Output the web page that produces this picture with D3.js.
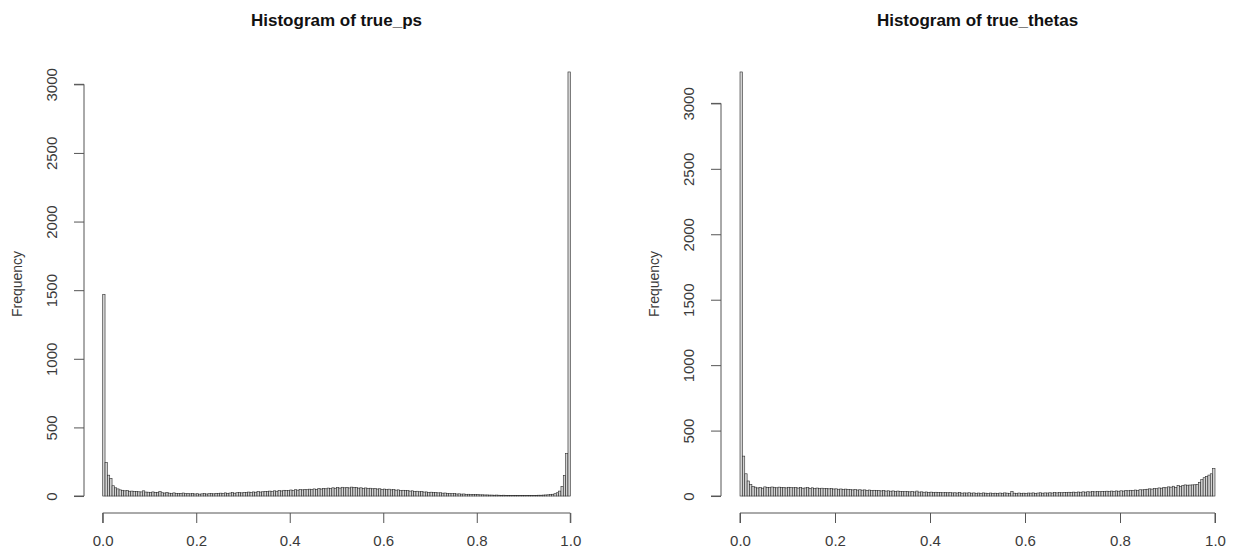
<!DOCTYPE html>
<html>
<head>
<meta charset="utf-8">
<script src="https://cdn.jsdelivr.net/npm/d3@7"></script>
<style>
    body { margin: 0; background: #fff; }
    svg { display: block; font-family: "Liberation Sans", Arial, sans-serif; }
</style>
</head>
<body>
<svg id="hist"></svg>
<script>
// [A] Datos -------------------------------------------------------------------
const binWidth = 0.005; // Ancho de cada barra
const xTicks = [0, 0.2, 0.4, 0.6, 0.8, 1.0];
const yTicks = [0, 500, 1000, 1500, 2000, 2500, 3000];

// Frecuencias de true_ps (200 barras de 0 a 1)
const truePs = [
    1470, 245, 152, 128, 75, 60, 52, 45, 42, 38,
    40, 35, 36, 33, 34, 31, 30, 38, 29, 28,
    27, 30, 26, 25, 33, 24, 22, 25, 21, 20,
    23, 19, 20, 18, 22, 17, 18, 16, 19, 15,
    17, 14, 16, 18, 15, 17, 19, 16, 20, 18,
    21, 19, 23, 20, 22, 25, 21, 24, 26, 23,
    27, 25, 29, 26, 30, 28, 32, 29, 31, 34,
    33, 36, 32, 38, 35, 40, 37, 42, 39, 41,
    44, 40, 46, 43, 47, 45, 49, 46, 50, 48,
    52, 49, 54, 51, 56, 53, 58, 55, 60, 57,
    62, 58, 64, 60, 63, 59, 65, 61, 62, 58,
    60, 56, 59, 55, 57, 53, 55, 51, 53, 49,
    51, 47, 50, 45, 47, 43, 45, 41, 42, 39,
    40, 36, 38, 34, 35, 31, 33, 29, 30, 27,
    28, 25, 26, 23, 24, 21, 22, 19, 20, 17,
    18, 15, 16, 14, 15, 12, 13, 11, 12, 10,
    10, 9, 9, 8, 8, 7, 7, 6, 7, 6,
    5, 6, 5, 5, 4, 5, 4, 4, 5, 4,
    4, 5, 4, 4, 5, 5, 6, 6, 7, 8,
    9, 11, 13, 17, 24, 36, 70, 150, 310, 3090
];

// Frecuencias de true_thetas (200 barras de 0 a 1)
const trueThetas = [
    3240, 305, 170, 115, 88, 72, 68, 62, 65, 60,
    70, 66, 64, 69, 67, 63, 68, 65, 66, 62,
    67, 64, 63, 66, 61, 65, 60, 62, 64, 59,
    63, 58, 61, 57, 60, 56, 59, 55, 57, 54,
    55, 52, 54, 50, 53, 49, 51, 47, 50, 46,
    48, 45, 47, 43, 46, 42, 44, 41, 43, 39,
    42, 38, 40, 37, 39, 35, 38, 34, 36, 33,
    35, 32, 34, 31, 38, 30, 32, 29, 31, 28,
    30, 27, 29, 26, 28, 25, 27, 25, 26, 24,
    25, 23, 26, 22, 24, 23, 25, 22, 24, 21,
    23, 21, 24, 22, 20, 23, 21, 22, 20, 23,
    21, 24, 22, 20, 35, 22, 21, 23, 20, 22,
    21, 23, 22, 24, 21, 23, 25, 22, 24, 23,
    25, 23, 26, 24, 27, 25, 28, 26, 29, 27,
    30, 28, 31, 29, 32, 30, 33, 31, 34, 32,
    35, 33, 36, 34, 37, 35, 38, 36, 39, 37,
    40, 38, 42, 40, 44, 42, 46, 44, 48, 47,
    50, 52, 55, 53, 58, 56, 62, 60, 66, 63,
    70, 68, 75, 65, 82, 72, 80, 85, 83, 84,
    85, 86, 88, 105, 125, 140, 150, 160, 170, 210
];

// [B] Configuracion -----------------------------------------------------------
const width = 1246;
const height = 555;

const svg = d3.select("#hist")
    .attr("width", width)
    .attr("height", height);

svg.append("rect")
    .attr("width", width)
    .attr("height", height)
    .attr("fill", "#fff");

// [C] Dibuja un histograma al estilo de R -------------------------------------
function drawHistogram(values, title, left, right) {
    const top = 55;
    const bottom = 513;
    const maxVal = d3.max(values);

    // R amplia los limites un 4% por cada lado
    const x = d3.scaleLinear().domain([-0.04, 1.04]).range([left, right]);
    const y = d3.scaleLinear().domain([-0.04 * maxVal, 1.04 * maxVal]).range([bottom, top]);

    const g = svg.append("g");

    // [C.1] Barras
    g.selectAll(".bar")
        .data(values)
        .join("rect")
        .attr("class", "bar")
        .attr("x", (d, i) => x(i * binWidth))
        .attr("y", d => y(d))
        .attr("width", x(binWidth) - x(0))
        .attr("height", d => y(0) - y(d))
        .attr("fill", "#d3d3d3")
        .attr("stroke", "#2a2a2a")
        .attr("stroke-width", 0.6);

    // [C.2] Eje X
    const xAxis = g.append("g")
        .attr("transform", `translate(0,${bottom})`)
        .call(d3.axisBottom(x).tickValues(xTicks).tickFormat(d3.format(".1f")).tickSize(10).tickPadding(12));

    // [C.3] Eje Y (etiquetas verticales como en R)
    const yAxis = g.append("g")
        .attr("transform", `translate(${x(-0.04)},0)`)
        .call(d3.axisLeft(y).tickValues(yTicks).tickSize(10).tickFormat(d3.format("d")));

    [xAxis, yAxis].forEach(a => {
        a.select(".domain").attr("stroke", "#555").attr("stroke-width", 1);
        a.selectAll(".tick line").attr("stroke", "#555").attr("stroke-width", 1);
        a.selectAll(".tick text")
            .attr("fill", "#3a3a3a")
            .attr("font-size", 15)
            .attr("font-family", "Liberation Sans, Arial, sans-serif");
    });

    // Quita los extremos del dominio para que la linea vaya de tick a tick
    xAxis.select(".domain").attr("d", `M${x(0)},10V0H${x(1)}V10`);
    yAxis.select(".domain").attr("d", `M-10,${y(0)}H0V${y(3000)}H-10`);

    yAxis.selectAll(".tick text")
        .attr("x", 0)
        .attr("y", 0)
        .attr("dy", 0)
        .attr("text-anchor", "middle")
        .attr("transform", "translate(-27,0) rotate(-90)");

    // [C.4] Titulo y etiqueta del eje Y
    g.append("text")
        .attr("x", (left + right) / 2)
        .attr("y", 26)
        .attr("text-anchor", "middle")
        .attr("font-size", 17)
        .attr("font-weight", "bold")
        .attr("fill", "#111")
        .text(title);

    g.append("text")
        .attr("transform", `translate(${left - 62},${(top + bottom) / 2}) rotate(-90)`)
        .attr("text-anchor", "middle")
        .attr("font-size", 14)
        .attr("fill", "#3a3a3a")
        .text("Frequency");
}

// [Z] Dibuja los dos paneles -------------------------------------------------
drawHistogram(truePs, "Histogram of true_ps", 84, 589);
drawHistogram(trueThetas, "Histogram of true_thetas", 721, 1234);
</script>
</body>
</html>
